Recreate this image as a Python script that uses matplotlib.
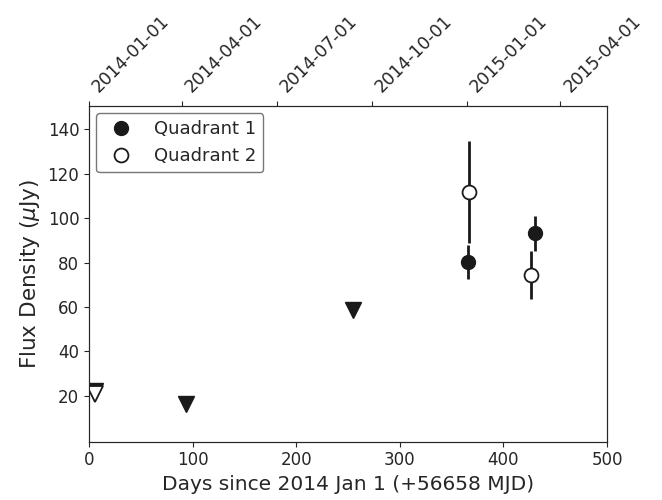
import matplotlib
matplotlib.use("Agg")
import matplotlib.pyplot as plt
from matplotlib.lines import Line2D

# detections (days since 2014 Jan 1, flux in uJy, 1-sigma error)
q1_days = [366, 430]
q1_flux = [80.2, 93.2]
q1_err = [7.7, 7.9]
q2_days = [367, 427]
q2_flux = [111.8, 74.4]
q2_err = [23.0, 11.0]

# upper limits
q1_lim_days = [6, 94, 255]
q1_lim_flux = [22.2, 16.3, 58.6]
q2_lim_days = [6]
q2_lim_flux = [20.9]

# top axis dates
date_days = [0, 90, 181, 273, 365, 455]
date_labels = ["2014-01-01", "2014-04-01", "2014-07-01", "2014-10-01", "2015-01-01", "2015-04-01"]

txt = "#262626"
plt.rcParams["text.color"] = txt
plt.rcParams["axes.labelcolor"] = txt
plt.rcParams["xtick.color"] = txt
plt.rcParams["ytick.color"] = txt
plt.rcParams["axes.edgecolor"] = txt

fig = plt.figure(figsize=(6.62, 5.0), dpi=100)
ax = fig.add_axes([0.1344, 0.1166, 0.7826, 0.672])

mk = "#1a1a1a"
ax.plot(q1_lim_days, q1_lim_flux, "v", ms=11, color=mk, zorder=3)
ax.plot(q2_lim_days, q2_lim_flux, "v", ms=11, mfc="white", mec=mk, mew=1.3, zorder=4)

ax.errorbar(q1_days, q1_flux, yerr=q1_err, fmt="o", ms=10, color=mk, ecolor=mk, elinewidth=2, capsize=0, zorder=3)
ax.errorbar(q2_days, q2_flux, yerr=q2_err, fmt="o", ms=10, mfc="white", mec=mk, mew=1.3, ecolor=mk, elinewidth=2, capsize=0, zorder=3)

ax.set_xlim(0, 500)
ax.set_ylim(-0.7, 150.7)
ax.set_xticks([0, 100, 200, 300, 400, 500])
ax.set_yticks([20, 40, 60, 80, 100, 120, 140])
ax.tick_params(labelsize=12)
ax.set_xlabel("Days since 2014 Jan 1 (+56658 MJD)", fontsize=14.5)
ax.set_ylabel("Flux Density ($\\mu$Jy)", fontsize=15.5, labelpad=4)

handles = [Line2D([], [], ls="none", marker="o", ms=10, color=mk),
           Line2D([], [], ls="none", marker="o", ms=10, mfc="white", mec=mk, mew=1.3)]
leg = ax.legend(handles, ["Quadrant 1", "Quadrant 2"], loc="upper left", fontsize=13,
                edgecolor="#555555", fancybox=True, borderaxespad=0.4)
leg.get_frame().set_linewidth(1.0)

top = ax.twiny()
top.set_xlim(ax.get_xlim())
top.set_xticks(date_days)
top.set_xticklabels(date_labels, rotation=45, ha="left", fontsize=12.5)

fig.savefig("out.png", dpi=100)
